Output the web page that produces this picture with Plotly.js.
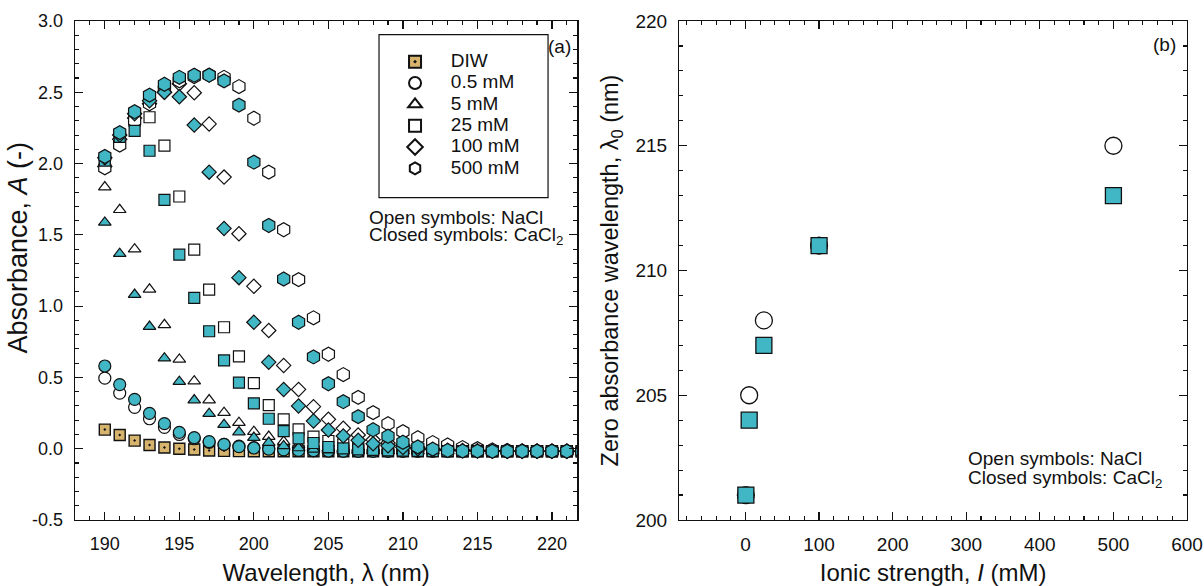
<!DOCTYPE html>
<html>
<head>
<meta charset="utf-8">
<script src="https://cdn.plot.ly/plotly-3.0.1.min.js"></script>
<style>html,body{margin:0;padding:0;background:#fff;}#chart{width:1204px;height:586px;}</style>
</head>
<body>
<div id="chart"></div>
<script>
// ---------- Panel (a): absorbance spectra ----------
const wavelength = [190,191,192,193,194,195,196,197,198,199,200,201,202,203,204,205,206,207,208,209,210,211,212,213,214,215,216,217,218,219,220,221,222];

const absDIW = [0.134,0.096,0.057,0.026,0.008,0.000,-0.006,-0.012,-0.015,-0.017,-0.018,-0.018,-0.018,-0.018,-0.018,-0.018,-0.018,-0.018,-0.018,-0.018,-0.018,-0.018,-0.018,-0.018,-0.018,-0.018,-0.018,-0.018,-0.018,-0.018,-0.018,-0.018,-0.018];

const absNaCl_0_5 = [0.495,0.390,0.290,0.210,0.150,0.100,0.070,0.045,0.030,0.018,0.008,0.000,-0.006,-0.010,-0.013,-0.015,-0.016,-0.017,-0.017,-0.017,-0.017,-0.017,-0.017,-0.017,-0.017,-0.017,-0.017,-0.017,-0.017,-0.017,-0.017,-0.017,-0.017];
const absCaCl2_0_5 = [0.580,0.450,0.346,0.248,0.176,0.115,0.078,0.050,0.030,0.015,0.005,-0.003,-0.008,-0.012,-0.014,-0.016,-0.017,-0.017,-0.017,-0.017,-0.017,-0.017,-0.017,-0.017,-0.017,-0.017,-0.017,-0.017,-0.017,-0.017,-0.017,-0.017,-0.017];

const absNaCl_5 = [1.835,1.676,1.400,1.118,0.869,0.626,0.474,0.341,0.253,0.183,0.120,0.085,0.050,0.027,0.012,0.002,-0.005,-0.010,-0.013,-0.015,-0.016,-0.017,-0.017,-0.017,-0.017,-0.017,-0.017,-0.017,-0.017,-0.017,-0.017,-0.017,-0.017];
const absCaCl2_5 = [1.587,1.368,1.081,0.857,0.635,0.470,0.341,0.246,0.169,0.117,0.078,0.043,0.020,0.005,-0.004,-0.010,-0.013,-0.015,-0.016,-0.017,-0.017,-0.017,-0.017,-0.017,-0.017,-0.017,-0.017,-0.017,-0.017,-0.017,-0.017,-0.017,-0.017];

const absNaCl_25 = [1.990,2.150,2.300,2.325,2.126,1.769,1.396,1.116,0.852,0.647,0.460,0.306,0.206,0.136,0.085,0.054,0.030,0.015,0.005,-0.003,-0.008,-0.012,-0.014,-0.016,-0.017,-0.017,-0.017,-0.017,-0.017,-0.017,-0.017,-0.017,-0.017];
const absCaCl2_25 = [2.020,2.187,2.230,2.090,1.746,1.361,1.058,0.824,0.619,0.463,0.318,0.210,0.124,0.073,0.040,0.012,0.002,-0.004,-0.008,-0.011,-0.013,-0.015,-0.016,-0.017,-0.017,-0.017,-0.017,-0.017,-0.017,-0.017,-0.017,-0.017,-0.017];

const absNaCl_100 = [1.980,2.170,2.320,2.420,2.500,2.560,2.497,2.278,1.905,1.508,1.139,0.829,0.584,0.416,0.295,0.206,0.143,0.096,0.062,0.040,0.024,0.010,0.000,-0.007,-0.011,-0.014,-0.016,-0.017,-0.017,-0.017,-0.017,-0.017,-0.017];
const absCaCl2_100 = [2.040,2.200,2.350,2.440,2.500,2.469,2.270,1.940,1.545,1.200,0.887,0.607,0.416,0.300,0.194,0.131,0.089,0.059,0.035,0.020,0.008,0.000,-0.006,-0.010,-0.013,-0.015,-0.016,-0.017,-0.017,-0.017,-0.017,-0.017,-0.017];

const absNaCl_500 = [1.970,2.130,2.300,2.420,2.520,2.580,2.610,2.620,2.605,2.540,2.318,1.940,1.536,1.186,0.918,0.663,0.520,0.360,0.253,0.175,0.120,0.077,0.043,0.026,0.008,0.000,-0.008,-0.012,-0.015,-0.016,-0.017,-0.017,-0.017];
const absCaCl2_500 = [2.050,2.217,2.364,2.480,2.556,2.605,2.620,2.620,2.580,2.410,2.010,1.566,1.190,0.887,0.644,0.456,0.330,0.225,0.133,0.087,0.045,0.013,-0.003,-0.012,-0.016,-0.017,-0.018,-0.018,-0.018,-0.018,-0.018,-0.018,-0.018];

const seriesLabels = ['DIW','0.5 mM','5 mM','25 mM','100 mM','500 mM'];

// tick labels of panel (a)
const panelAXTickVals = [190,195,200,205,210,215,220];
const panelAYTickVals = [-0.5,0,0.5,1,1.5,2,2.5,3];
const panelAYTickText = ['-0.5','0.0','0.5','1.0','1.5','2.0','2.5','3.0'];

// ---------- Panel (b): zero absorbance wavelength ----------
const ionicStrength = [0.5, 5, 25, 100, 500];
const lambda0NaCl = [201, 205, 208, 211, 215];
const lambda0CaCl2 = [201, 204, 207, 211, 213];

// ---------- styling ----------
const TEAL = '#41B6C4';
const TAN = '#D7B46E';
const EDGE = '#111111';
const FONT = 'Liberation Sans, Arial, Helvetica, sans-serif';

function legendName(t){
  return '<span style="font-size:19px">&nbsp;&nbsp;&nbsp;' + t + '</span>';
}

const traces = [];
traces.push({
  x: wavelength, y: absDIW, type: 'scatter', mode: 'markers',
  name: legendName(seriesLabels[0]), xaxis: 'x', yaxis: 'y',
  marker: {symbol: 'square-dot', size: 11, color: TAN, line: {color: EDGE, width: 1.4}}
});
const openSpec = [
  [absNaCl_0_5, 'circle', 12],
  [absNaCl_5, 'triangle-up', 11],
  [absNaCl_25, 'square', 11],
  [absNaCl_100, 'diamond', 11],
  [absNaCl_500, 'hexagon', 14]
];
const closedSpec = [
  [absCaCl2_0_5, 'circle', 12],
  [absCaCl2_5, 'triangle-up', 11],
  [absCaCl2_25, 'square', 11],
  [absCaCl2_100, 'diamond', 11],
  [absCaCl2_500, 'hexagon', 14]
];
openSpec.forEach((s, i) => {
  traces.push({
    x: wavelength, y: s[0], type: 'scatter', mode: 'markers',
    name: legendName(seriesLabels[i+1]), xaxis: 'x', yaxis: 'y',
    marker: {symbol: s[1], size: s[2], color: '#ffffff', line: {color: EDGE, width: 1.2}}
  });
});
closedSpec.forEach((s, i) => {
  traces.push({
    x: wavelength, y: s[0], type: 'scatter', mode: 'markers',
    name: seriesLabels[i+1] + ' CaCl2', showlegend: false, xaxis: 'x', yaxis: 'y',
    marker: {symbol: s[1], size: s[2], color: TEAL, line: {color: EDGE, width: 1.2}}
  });
});
traces.push({
  x: ionicStrength, y: lambda0NaCl, type: 'scatter', mode: 'markers',
  name: 'NaCl', showlegend: false, xaxis: 'x2', yaxis: 'y2',
  marker: {symbol: 'circle', size: 17, color: '#ffffff', line: {color: EDGE, width: 1.3}}
});
traces.push({
  x: ionicStrength, y: lambda0CaCl2, type: 'scatter', mode: 'markers',
  name: 'CaCl2', showlegend: false, xaxis: 'x2', yaxis: 'y2',
  marker: {symbol: 'square', size: 16, color: TEAL, line: {color: EDGE, width: 1.3}}
});

const tickFontA = {family: FONT, size: 18, color: '#111'};
const tickFontB = {family: FONT, size: 19, color: '#111'};
const titleFont = {family: FONT, size: 24, color: '#111'};
function axisBase(extra){
  return Object.assign({
    showline: true, linecolor: EDGE, linewidth: 1.3, mirror: 'allticks',
    ticks: 'inside', ticklen: 8, tickwidth: 1.2, tickcolor: EDGE,
    showgrid: false, zeroline: false
  }, extra);
}

const layout = {
  width: 1204, height: 586,
  margin: {l: 75, r: 17, t: 21, b: 66},
  paper_bgcolor: '#ffffff', plot_bgcolor: '#ffffff',
  font: {family: FONT, color: '#111', size: 18},
  showlegend: true,
  legend: {
    x: 0.2878, y: 0.9499, xanchor: 'left', yanchor: 'top',
    bgcolor: 'rgba(0,0,0,0)', borderwidth: 0,
    font: {family: FONT, size: 14.1, color: '#111'},
    itemsizing: 'constant', tracegroupgap: 0
  },
  xaxis: axisBase({
    domain: [0, 0.4517], range: [188, 221.7], anchor: 'y',
    tickmode: 'array', tickvals: panelAXTickVals, tickfont: tickFontA,
    minor: {dtick: 1, tick0: 188, ticks: 'inside', ticklen: 4, tickwidth: 1.1, tickcolor: EDGE},
    ticklabelstandoff: 7,
    title: {text: 'Wavelength, λ (nm)', font: titleFont, standoff: 16}
  }),
  yaxis: axisBase({
    domain: [0, 1], range: [-0.5, 3.0], anchor: 'x',
    tickmode: 'array', tickvals: panelAYTickVals, ticktext: panelAYTickText, tickfont: tickFontA,
    minor: {dtick: 0.1, tick0: 0, ticks: 'inside', ticklen: 4, tickwidth: 1.1, tickcolor: EDGE},
    ticklabelstandoff: 7
  }),
  xaxis2: axisBase({
    domain: [0.5434, 1], range: [-90, 600], anchor: 'y2',
    tickmode: 'linear', tick0: 0, dtick: 100, tickfont: tickFontB,
    minor: {dtick: 20, tick0: 0, ticks: 'inside', ticklen: 4, tickwidth: 1.1, tickcolor: EDGE},
    ticklabelstandoff: 7,
    title: {text: 'Ionic strength, <i>I</i> (mM)', font: titleFont, standoff: 16}
  }),
  yaxis2: axisBase({
    domain: [0, 1], range: [200, 220], anchor: 'x2',
    tickmode: 'linear', tick0: 200, dtick: 5, tickfont: tickFontB,
    minor: {dtick: 1, ticks: 'inside', ticklen: 4, tickwidth: 1.1, tickcolor: EDGE},
    ticklabelstandoff: 7,
    title: {text: 'Zero absorbance wavelength, λ<sub>0</sub> (nm)', font: {family: FONT, size: 23.5, color: '#111'}, standoff: 10}
  }),
  shapes: [
    {type: 'rect', xref: 'paper', yref: 'paper', x0: 0.2734, x1: 0.4254, y0: 0.6459, y1: 0.9725,
     line: {color: EDGE, width: 1.2}, fillcolor: 'rgba(0,0,0,0)'}
  ],
  annotations: [
    {text: 'Absorbance, <i>A</i> (-)', xref: 'paper', yref: 'paper', x: -0.0508, y: 0.545, xanchor: 'center', yanchor: 'middle', textangle: -90, showarrow: false, font: {family: FONT, size: 27, color: '#111'}},
    {text: '(a)', xref: 'paper', yref: 'paper', x: 0.4478, y: 0.9485, xanchor: 'right', yanchor: 'middle', showarrow: false, font: {family: FONT, size: 19, color: '#111'}},
    {text: '(b)', xref: 'paper', yref: 'paper', x: 0.9919, y: 0.9533, xanchor: 'right', yanchor: 'middle', showarrow: false, font: {family: FONT, size: 19, color: '#111'}},
    {text: 'Open symbols: NaCl', xref: 'paper', yref: 'paper', x: 0.2629, y: 0.6066, xanchor: 'left', yanchor: 'middle', showarrow: false, font: {family: FONT, size: 19, color: '#111'}},
    {text: 'Closed symbols: CaCl<sub>2</sub>', xref: 'paper', yref: 'paper', x: 0.2629, y: 0.5685, xanchor: 'left', yanchor: 'middle', showarrow: false, font: {family: FONT, size: 19, color: '#111'}},
    {text: 'Open symbols: NaCl', xref: 'paper', yref: 'paper', x: 0.8013, y: 0.1237, xanchor: 'left', yanchor: 'middle', showarrow: false, font: {family: FONT, size: 19, color: '#111'}},
    {text: 'Closed symbols: CaCl<sub>2</sub>', xref: 'paper', yref: 'paper', x: 0.8013, y: 0.0816, xanchor: 'left', yanchor: 'middle', showarrow: false, font: {family: FONT, size: 19, color: '#111'}}
  ]
};

Plotly.newPlot('chart', traces, layout, {displayModeBar: false, staticPlot: true});
</script>
</body>
</html>
